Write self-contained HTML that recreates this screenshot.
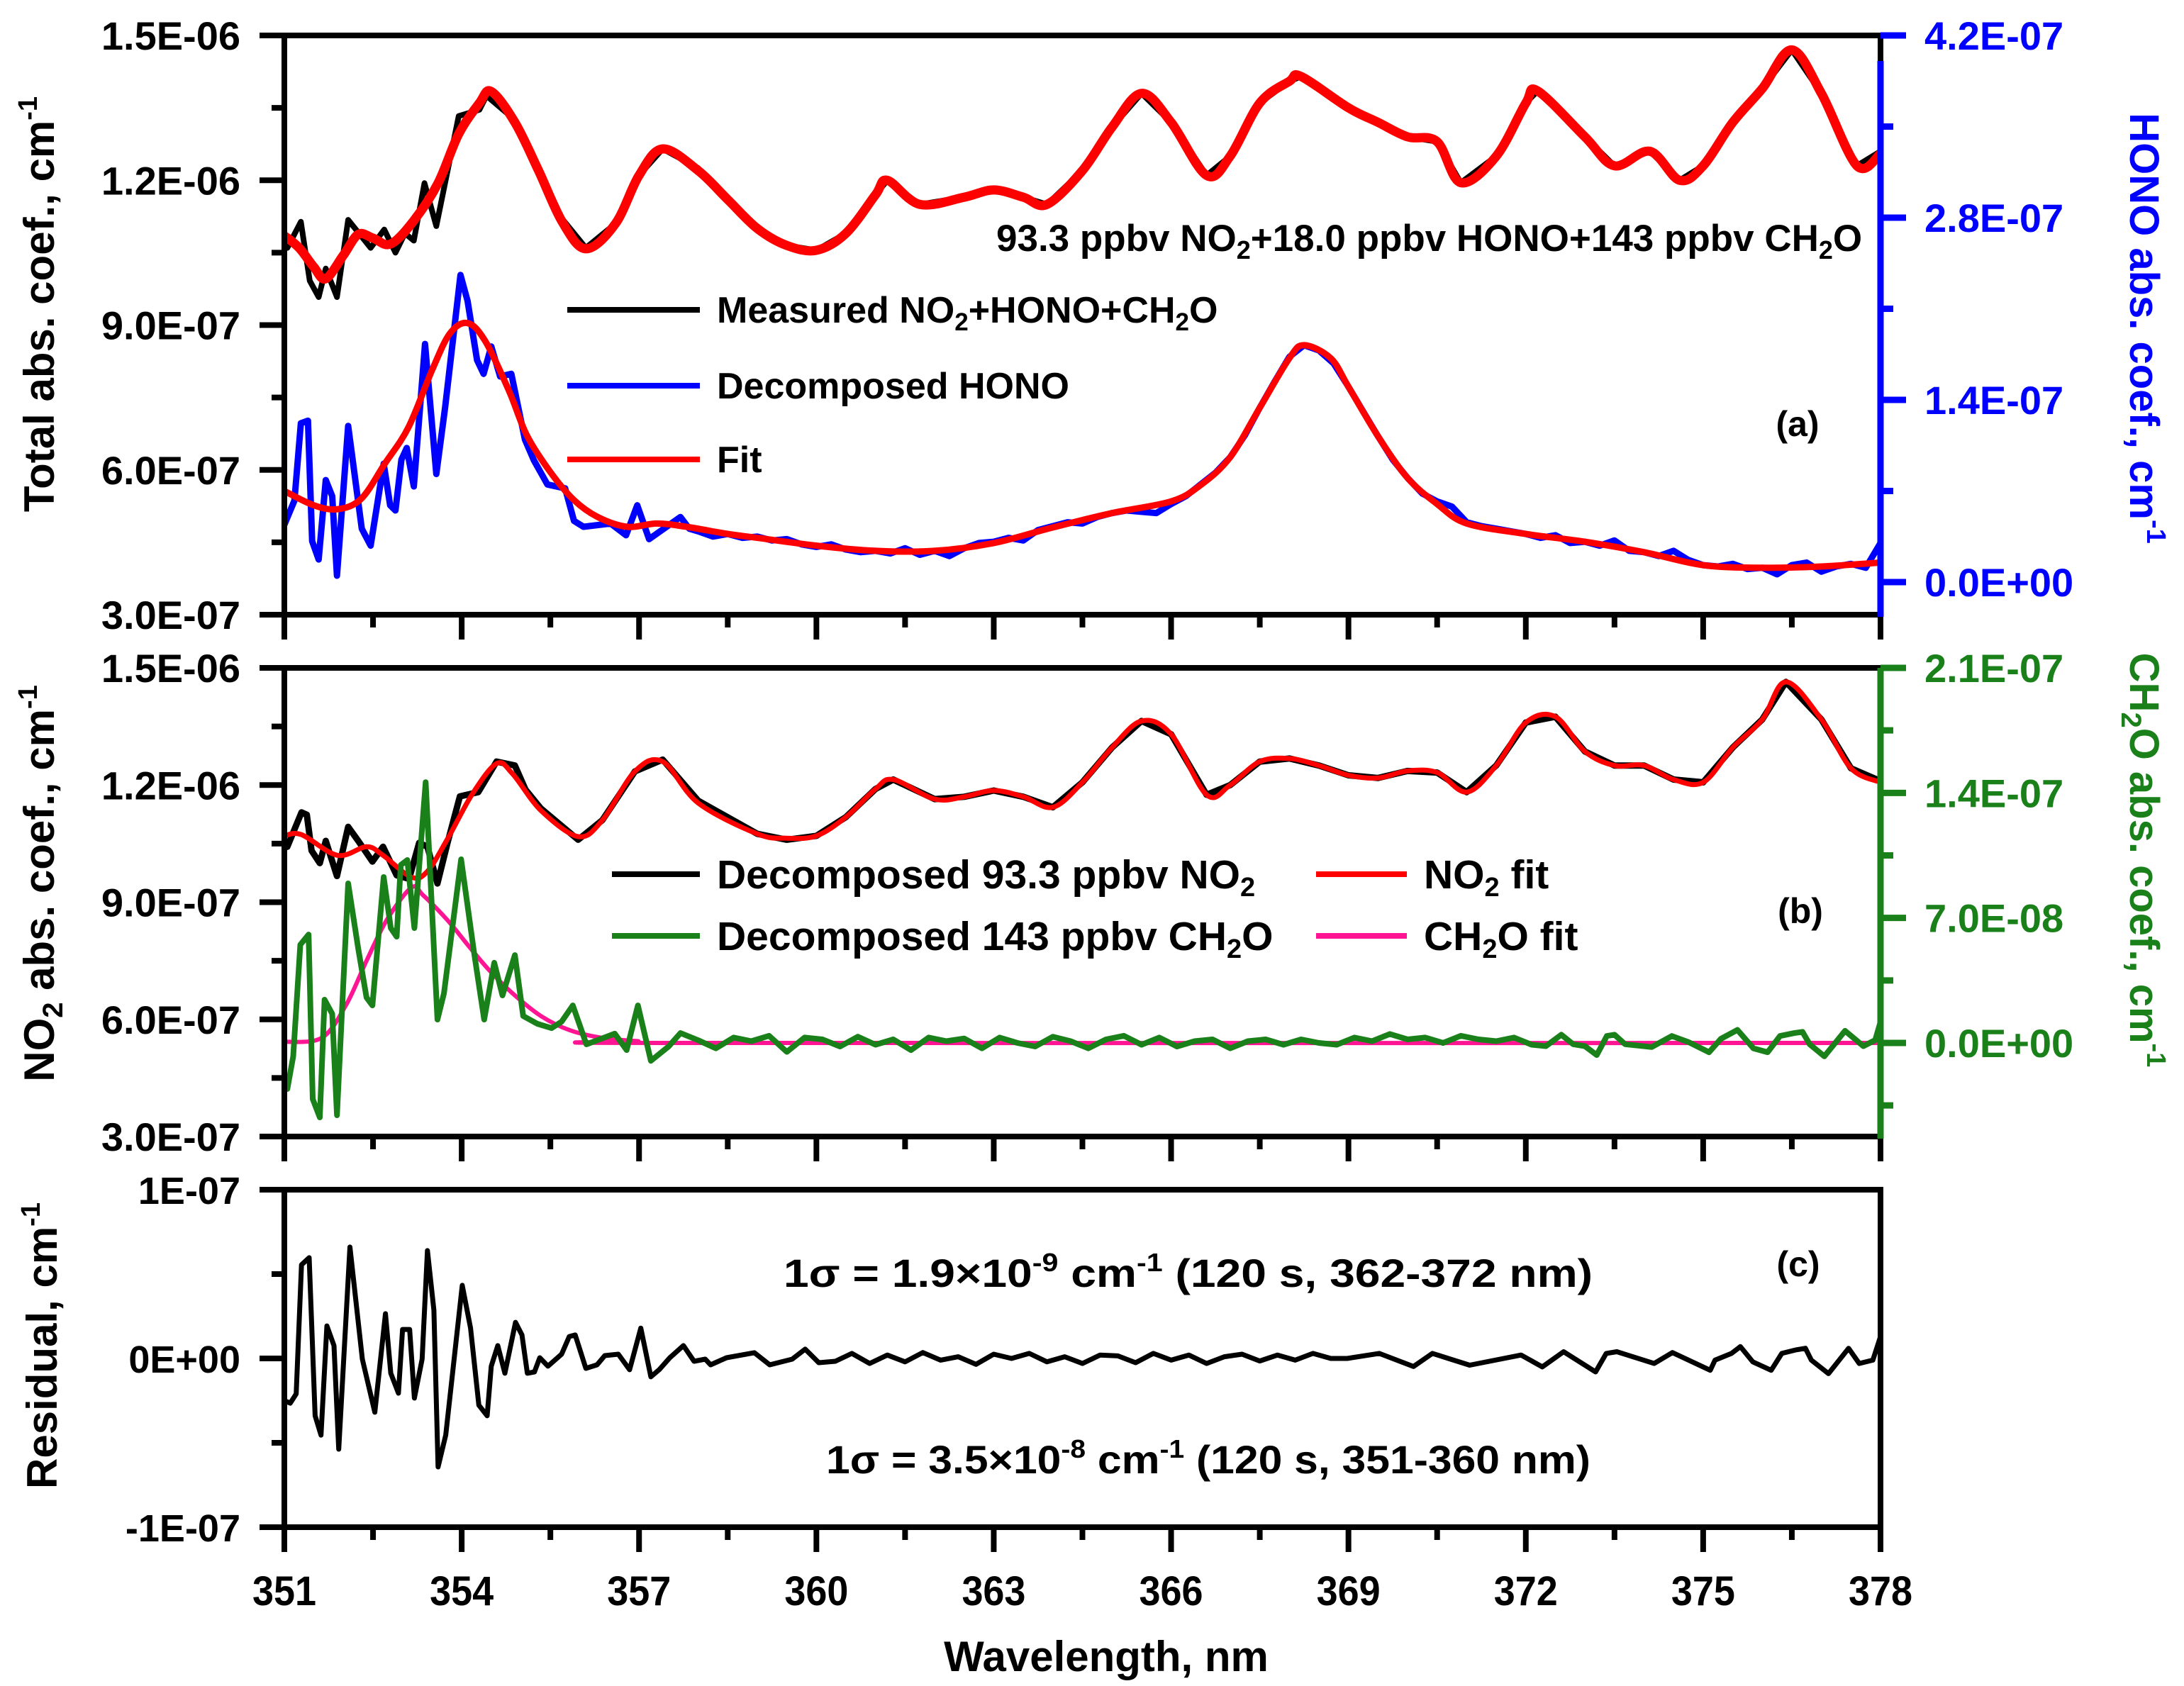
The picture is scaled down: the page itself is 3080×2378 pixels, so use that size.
<!DOCTYPE html>
<html><head><meta charset="utf-8">
<style>
html,body{margin:0;padding:0;background:#fff;}
svg{display:block;font-family:"Liberation Sans",Arial,sans-serif;font-weight:bold;}
</style></head>
<body>
<svg id="chart" width="3080" height="2378" viewBox="0 0 3080 2378" xmlns="http://www.w3.org/2000/svg">
<rect x="0" y="0" width="3080" height="2378" fill="#fff"/>
<g id="marks"></g>
<g id="axes"></g>
<g id="texts">
  <text transform="translate(76,429) rotate(-90)" text-anchor="middle" font-size="60">Total abs. coef., cm<tspan font-size="38" dy="-24">-1</tspan></text>
  <text transform="translate(76,1246) rotate(-90)" text-anchor="middle" font-size="60">NO<tspan font-size="40" dy="12">2</tspan><tspan dy="-12"> abs. coef., cm</tspan><tspan font-size="38" dy="-24">-1</tspan></text>
  <text transform="translate(80,1898) rotate(-90)" text-anchor="middle" font-size="60">Residual, cm<tspan font-size="38" dy="-24">-1</tspan></text>
  <text transform="translate(3004,463) rotate(90)" text-anchor="middle" font-size="58" fill="#0000ff">HONO abs. coef., cm<tspan font-size="38" dy="-24">-1</tspan></text>
  <text transform="translate(3004,1213) rotate(90)" text-anchor="middle" font-size="58" fill="#1a801a">CH<tspan font-size="40" dy="12">2</tspan><tspan dy="-12">O abs. coef., cm</tspan><tspan font-size="38" dy="-24">-1</tspan></text>
  <text x="1560" y="2357" text-anchor="middle" font-size="60">Wavelength, nm</text>

  <text x="1405" y="354" font-size="53">93.3 ppbv NO<tspan font-size="36" dy="11">2</tspan><tspan dy="-11">+18.0 ppbv HONO+143 ppbv CH</tspan><tspan font-size="36" dy="11">2</tspan><tspan dy="-11">O</tspan></text>
  <line x1="800" y1="437" x2="987" y2="437" stroke="#000" stroke-width="8"/>
  <text x="1011" y="455" font-size="52">Measured NO<tspan font-size="35" dy="11">2</tspan><tspan dy="-11">+HONO+CH</tspan><tspan font-size="35" dy="11">2</tspan><tspan dy="-11">O</tspan></text>
  <line x1="800" y1="544" x2="987" y2="544" stroke="#0000ff" stroke-width="8"/>
  <text x="1011" y="562" font-size="52">Decomposed HONO</text>
  <line x1="800" y1="648" x2="987" y2="648" stroke="#ff0000" stroke-width="8"/>
  <text x="1011" y="666" font-size="52">Fit</text>
  <text x="2535" y="615" text-anchor="middle" font-size="50">(a)</text>

  <line x1="863" y1="1233" x2="987" y2="1233" stroke="#000" stroke-width="8"/>
  <text x="1011" y="1253" font-size="57">Decomposed 93.3 ppbv NO<tspan font-size="38" dy="11">2</tspan></text>
  <line x1="863" y1="1320" x2="987" y2="1320" stroke="#1a801a" stroke-width="8"/>
  <text x="1011" y="1340" font-size="57">Decomposed 143 ppbv CH<tspan font-size="38" dy="11">2</tspan><tspan dy="-11">O</tspan></text>
  <line x1="1856" y1="1233" x2="1984" y2="1233" stroke="#ff0000" stroke-width="8"/>
  <text x="2008" y="1253" font-size="57">NO<tspan font-size="38" dy="11">2</tspan><tspan dy="-11"> fit</tspan></text>
  <line x1="1856" y1="1320" x2="1984" y2="1320" stroke="#ff1493" stroke-width="8"/>
  <text x="2008" y="1340" font-size="57">CH<tspan font-size="38" dy="11">2</tspan><tspan dy="-11">O fit</tspan></text>
  <text x="2539" y="1302" text-anchor="middle" font-size="50">(b)</text>

  <text x="1105" y="1815" font-size="56" textLength="1141" lengthAdjust="spacingAndGlyphs">1σ = 1.9×10<tspan font-size="36" dy="-22">-9</tspan><tspan dy="22"> cm</tspan><tspan font-size="36" dy="-22">-1</tspan><tspan dy="22"> (120 s, 362-372 nm)</tspan></text>
  <text x="1165" y="2078" font-size="56" textLength="1078" lengthAdjust="spacingAndGlyphs">1σ = 3.5×10<tspan font-size="36" dy="-22">-8</tspan><tspan dy="22"> cm</tspan><tspan font-size="36" dy="-22">-1</tspan><tspan dy="22"> (120 s, 351-360 nm)</tspan></text>
  <text x="2536" y="1800" text-anchor="middle" font-size="50">(c)</text>
</g>
</svg>
<script>
const totalFitX = [351,351.25,351.5,351.7,352,352.25,352.5,352.8,353.2,353.6,353.95,354.3,354.5,354.9,355.3,355.7,356.1,356.6,357,357.4,358,358.5,359,359.5,360,360.5,361,361.2,361.75,362.5,363,363.5,363.9,364.5,365,365.5,366,366.6,367,367.5,368,368.2,369,369.5,370,370.5,370.9,371.5,372,372.2,373,373.5,374.1,374.6,375,375.5,376,376.5,377,377.6,378];
const totalFitY = [10.85,10.6,10.2,9.96,10.45,10.88,10.8,10.68,11.18,11.94,12.96,13.6,13.84,13.2,12.2,11.14,10.58,11.1,12.1,12.65,12.2,11.6,11.0,10.65,10.55,10.9,11.7,12.0,11.5,11.65,11.8,11.65,11.5,12.2,13.1,13.8,13.2,12.1,12.5,13.6,14.05,14.15,13.5,13.2,12.9,12.8,11.95,12.5,13.6,13.85,12.9,12.3,12.6,12.0,12.3,13.2,13.9,14.7,13.8,12.3,12.55];
const measX = [351,351.05,351.28,351.43,351.58,351.7,351.89,352.08,352.46,352.69,352.88,353.04,353.19,353.37,353.57,353.95,354.3,354.42,354.9,355.3,355.7,356.1,356.6,357,357.4,358,358.5,359,359.5,360,360.5,361,361.2,361.75,362.5,363,363.5,363.9,364.5,365,365.5,366,366.6,367,367.5,368,368.2,369,369.5,370,370.5,370.9,371.5,372,372.2,373,373.5,374.1,374.6,375,375.5,376,376.5,377,377.6,378];
const measY = [10.7,10.6,11.14,9.92,9.58,10.17,9.58,11.18,10.6,10.98,10.5,10.9,10.75,11.94,11.05,13.33,13.46,13.75,13.25,12.25,11.2,10.6,11.1,12.1,12.65,12.25,11.6,11.0,10.65,10.55,10.9,11.7,12.0,11.5,11.65,11.8,11.65,11.5,12.2,13.1,13.8,13.2,12.1,12.5,13.6,14.05,14.15,13.5,13.2,12.9,12.8,11.95,12.5,13.6,13.85,12.9,12.3,12.6,12.0,12.3,13.2,13.9,14.7,13.8,12.3,12.6];
const honoX = [351,351.17,351.28,351.4,351.47,351.58,351.7,351.81,351.89,352.08,352.31,352.46,352.68,352.79,352.88,352.98,353.07,353.19,353.38,353.57,353.72,353.98,354.1,354.26,354.37,354.5,354.65,354.84,355.07,355.22,355.45,355.75,355.9,356.06,356.52,356.78,356.97,357.17,357.7,357.85,358,358.25,358.5,358.75,359,359.25,359.5,359.75,360,360.25,360.5,360.75,361,361.25,361.5,361.75,362,362.25,362.5,362.75,363,363.25,363.5,363.75,364,364.25,364.5,364.75,365,365.25,365.5,365.75,366,366.25,366.5,366.75,367,367.25,367.5,367.75,368,368.25,368.5,368.75,369,369.25,369.5,369.75,370,370.25,370.5,370.75,371,371.25,371.5,371.75,372,372.25,372.5,372.75,373,373.25,373.5,373.75,374,374.25,374.5,374.75,375,375.25,375.5,375.75,376,376.25,376.5,376.75,377,377.25,377.5,377.75,378];
const honoY = [4.4,6.26,12.2,12.4,3.15,1.74,7.84,6.6,0.49,12.0,4.1,2.8,9.1,5.9,5.5,9.4,10.3,7.35,18.3,8.3,13.45,23.6,21.6,17.05,16.0,18.1,15.8,16.0,10.95,9.37,7.5,7.2,4.7,4.25,4.5,3.6,5.9,3.3,5.0,4.1,3.9,3.5,3.7,3.4,3.5,3.2,3.3,2.9,2.7,2.9,2.5,2.3,2.4,2.2,2.6,2.1,2.4,2.0,2.6,3.0,3.1,3.4,3.2,4.0,4.3,4.6,4.5,5.0,5.3,5.5,5.4,5.3,6.0,6.6,7.5,8.4,9.6,11.3,13.4,15.4,17.3,18.2,17.8,16.8,15.0,13.1,11.2,9.4,8.0,6.8,6.2,5.8,4.6,4.3,4.1,3.9,3.7,3.4,3.6,3.0,3.1,2.8,3.2,2.4,2.3,2.0,2.4,1.7,1.3,1.2,1.4,1.0,1.1,0.6,1.3,1.5,0.8,1.2,1.4,1.1,3.0];
const honoFitX = [351,351.5,351.9,352.3,352.7,353.1,353.5,353.8,354.1,354.4,354.8,355.1,355.5,355.9,356.3,356.8,357.3,357.8,358.5,359,360,361,362,363,364,365,366,366.5,367,367.5,368,368.25,368.7,369,369.5,370,370.5,371,372,373,374,375,376,377,378];
const honoFitY = [7.0,5.9,5.6,6.4,9.1,11.9,16.3,19.1,19.9,18.5,14.7,11.3,8.45,6.3,5.0,4.25,4.5,4.25,3.7,3.4,2.8,2.4,2.4,3.0,4.2,5.3,6.2,7.45,9.6,13.4,17.2,18.2,17.2,15.0,11.2,8.0,6.0,4.5,3.7,3.1,2.3,1.3,1.1,1.2,1.5];
const no2FitX = [351,351.29,351.9,352.39,352.67,353.15,353.42,353.76,354.18,354.59,354.86,355.34,355.97,356.38,356.93,357.4,358,359,359.5,360,360.5,361,361.3,362,362.5,363,363.5,364,364.5,365,365.5,366,366.6,367,367.5,368,368.5,369,369.5,370,370.5,371,371.5,372,372.5,373,373.5,374,374.5,375,375.5,376,376.4,377,377.5,378];
const no2FitY = [10.7,10.73,10.2,10.42,10.2,9.64,9.79,10.62,11.77,12.55,12.29,11.35,10.68,11.1,12.35,12.6,11.54,10.75,10.64,10.7,11.18,11.9,12.14,11.64,11.7,11.86,11.7,11.43,12.07,12.96,13.64,13.3,11.75,12.0,12.6,12.68,12.5,12.25,12.18,12.36,12.32,11.82,12.5,13.6,13.75,12.86,12.5,12.5,12.14,12.07,12.96,13.68,14.64,13.68,12.43,12.07];
const no2X = [351,351.05,351.29,351.38,351.46,351.6,351.7,351.89,352.08,352.25,352.49,352.67,352.9,353.11,353.28,353.42,353.59,353.76,353.97,354.28,354.59,354.9,355.08,355.34,355.97,356.38,356.93,357.4,358,359,359.5,360,360.5,361,361.3,362,362.5,363,363.5,364,364.5,365,365.5,366,366.6,367,367.5,368,368.5,369,369.5,370,370.5,371,371.5,372,372.5,373,373.5,374,374.5,375,375.5,376,376.4,377,377.5,378];
const no2Y = [10.4,10.42,11.3,11.24,10.32,10.0,10.57,9.67,10.93,10.57,10.04,10.42,9.69,9.6,10.52,10.42,9.48,10.52,11.71,11.82,12.6,12.5,11.88,11.4,10.6,11.1,12.35,12.65,11.6,10.75,10.6,10.7,11.18,11.9,12.14,11.64,11.7,11.86,11.7,11.43,12.07,12.96,13.64,13.3,11.75,12.0,12.6,12.68,12.5,12.25,12.18,12.36,12.32,11.82,12.5,13.6,13.75,12.86,12.5,12.5,12.14,12.07,12.96,13.68,14.64,13.68,12.43,12.1];
const ch2oX = [351.05,351.15,351.27,351.41,351.48,351.6,351.68,351.81,351.89,352.08,352.25,352.39,352.49,352.68,352.8,352.9,352.97,353.08,353.2,353.39,353.59,353.7,353.99,354.21,354.38,354.55,354.69,354.9,355.04,355.28,355.52,355.69,355.88,356.11,356.59,356.79,356.98,357.2,357.5,357.7,358,358.3,358.6,358.9,359.2,359.5,359.8,360.1,360.4,360.7,361,361.3,361.6,361.9,362.2,362.5,362.8,363.1,363.4,363.7,364,364.3,364.6,364.9,365.2,365.5,365.8,366.1,366.4,366.7,367,367.3,367.6,367.9,368.2,368.5,368.8,369.1,369.4,369.7,370,370.3,370.6,370.9,371.2,371.5,371.8,372.1,372.34,372.6,372.8,373.0,373.2,373.37,373.5,373.68,374.13,374.47,374.75,375.1,375.3,375.58,375.85,376.09,376.3,376.54,376.68,376.8,377.05,377.4,377.71,377.91,378];
const ch2oY = [-2.58,-0.75,5.5,6.07,-3.14,-4.17,2.42,1.63,-4.05,8.93,5.28,2.54,2.1,9.29,6.43,5.95,9.96,10.24,6.43,14.6,1.31,2.78,10.28,5.04,1.31,4.49,2.66,4.92,1.51,1.07,0.83,1.19,2.1,-0.08,0.52,-0.4,2.1,-1.0,-0.2,0.55,0.15,-0.3,0.3,0.1,0.4,-0.5,0.3,0.2,-0.2,0.35,-0.1,0.2,-0.4,0.3,0.1,0.25,-0.3,0.3,0.0,-0.2,0.35,0.1,-0.3,0.2,0.4,-0.1,0.3,-0.2,0.1,0.2,-0.3,0.1,0.2,-0.1,0.2,0.0,-0.1,0.3,0.1,0.5,0.2,0.3,0.0,0.4,0.2,0.1,0.3,-0.1,-0.18,0.46,-0.07,-0.18,-0.68,0.39,0.46,-0.07,-0.23,0.39,0.05,-0.52,0.23,0.73,-0.3,-0.52,0.39,0.55,0.62,-0.07,-0.75,0.68,-0.18,0.16,1.18];
const ch2oFitX = [351,351.63,352.04,352.39,352.73,353.15,353.35,353.76,354.1,354.45,354.86,355.34,355.83,356.38,356.98,357.6,378];
const ch2oFitY = [0.06,0.28,2.1,4.6,6.87,8.7,8.26,6.87,5.5,4.13,2.78,1.51,0.71,0.28,0.1,0.0,0.0];
const residX = [351,351.1,351.2,351.29,351.42,351.52,351.62,351.72,351.84,351.92,352.11,352.32,352.53,352.71,352.8,352.93,353.0,353.12,353.2,353.33,353.42,353.53,353.6,353.73,354.01,354.15,354.29,354.43,354.5,354.61,354.73,354.91,355.02,355.11,355.23,355.32,355.46,355.69,355.82,355.92,356.1,356.29,356.42,356.65,356.84,357.03,357.2,357.34,357.52,357.75,357.93,358.12,358.21,358.48,358.95,359.21,359.59,359.81,360.04,360.32,360.6,360.9,361.2,361.5,361.8,362.1,362.4,362.7,363.0,363.3,363.6,363.9,364.2,364.5,364.8,365.1,365.4,365.7,366.0,366.3,366.6,366.9,367.2,367.5,367.8,368.1,368.4,368.7,368.98,369.52,370.1,370.42,371.05,371.92,372.28,372.64,373.18,373.36,373.54,374.17,374.48,375.12,375.2,375.48,375.63,375.84,376.15,376.33,376.56,376.73,376.83,377.12,377.46,377.64,377.87,378];
const residY = [-2.5,-2.65,-2.1,5.55,5.97,-3.4,-4.54,1.93,0.76,-5.38,6.6,-0.04,-3.19,2.65,-0.88,-2.06,1.72,1.72,-2.35,-0.04,6.39,2.86,-6.43,-4.54,4.33,1.8,-2.77,-3.4,-0.46,0.76,-0.88,2.14,1.39,-0.88,-0.8,0.04,-0.46,0.25,1.3,1.39,-0.59,-0.38,0.17,0.25,-0.67,1.8,-1.09,-0.67,0.04,0.76,-0.17,-0.04,-0.38,0.04,0.34,-0.38,-0.04,0.55,-0.25,-0.17,0.3,-0.3,0.2,-0.2,0.35,-0.1,0.1,-0.35,0.25,0.0,0.3,-0.2,0.1,-0.3,0.2,0.15,-0.25,0.3,-0.1,0.2,-0.3,0.1,0.25,-0.15,0.2,-0.1,0.3,0.0,0.0,0.3,-0.48,0.3,-0.4,0.2,-0.5,0.4,-0.8,0.3,0.4,-0.3,0.35,-0.7,-0.1,0.3,0.7,-0.2,-0.7,0.3,0.5,0.6,-0.1,-0.9,0.6,-0.3,-0.1,1.3];
const xTicks = [351,354,357,360,363,366,369,372,375,378];
const aLeftTicks = [3,6,9,12,15];
const aLeftLabels = ["3.0E-07","6.0E-07","9.0E-07","1.2E-06","1.5E-06"];
const honoTicks = [0,14,28,42];
const honoLabels = ["0.0E+00","1.4E-07","2.8E-07","4.2E-07"];
const bLeftTicks = [3,6,9,12,15];
const bLeftLabels = ["3.0E-07","6.0E-07","9.0E-07","1.2E-06","1.5E-06"];
const ch2oTicks = [0,7,14,21];
const ch2oLabels = ["0.0E+00","7.0E-08","1.4E-07","2.1E-07"];
const cTicks = [-10,0,10];
const cLabels = ["-1E-07","0E+00","1E-07"];

const XL=401, XR=2652;
const X = v => XL + (v-351)/27*(XR-XL);
const yA = v => 867 - (v-3)/12*817;
const yHono = v => 821 - v/42*771;
const yB = v => 1603 - (v-3)/12*661;
const yCh2o = v => 1471 - v/21*529;
const yC = v => 1916 - v*23.8;

const NS="http://www.w3.org/2000/svg";
const marks=document.getElementById('marks');
const axes=document.getElementById('axes');

function linePath(xs,ys,fy){
  let d='';
  for(let i=0;i<xs.length;i++){d+=(i?'L':'M')+X(xs[i]).toFixed(1)+' '+fy(ys[i]).toFixed(1);}
  return d;
}
function smoothPath(xs,ys,fy){
  const p=xs.map((x,i)=>[X(x),fy(ys[i])]);
  let d='M'+p[0][0].toFixed(1)+' '+p[0][1].toFixed(1);
  for(let i=0;i<p.length-1;i++){
    const p0=p[Math.max(0,i-1)],p1=p[i],p2=p[i+1],p3=p[Math.min(p.length-1,i+2)];
    const c1=[p1[0]+(p2[0]-p0[0])/6,p1[1]+(p2[1]-p0[1])/6];
    const c2=[p2[0]-(p3[0]-p1[0])/6,p2[1]-(p3[1]-p1[1])/6];
    d+='C'+c1[0].toFixed(1)+' '+c1[1].toFixed(1)+' '+c2[0].toFixed(1)+' '+c2[1].toFixed(1)+' '+p2[0].toFixed(1)+' '+p2[1].toFixed(1);
  }
  return d;
}
function addPath(parent,d,color,w){
  const e=document.createElementNS(NS,'path');
  e.setAttribute('d',d);
  e.setAttribute('fill','none');
  e.setAttribute('stroke',color);
  e.setAttribute('stroke-width',w);
  e.setAttribute('stroke-linejoin','round');
  e.setAttribute('stroke-linecap','round');
  parent.appendChild(e);
  return e;
}
function clipGroup(id,y1,y2){
  const cp=document.createElementNS(NS,'clipPath');
  cp.setAttribute('id',id);
  const r=document.createElementNS(NS,'rect');
  r.setAttribute('x',XL);r.setAttribute('y',y1);r.setAttribute('width',XR-XL);r.setAttribute('height',y2-y1);
  cp.appendChild(r);
  document.getElementById('chart').appendChild(cp);
  const g=document.createElementNS(NS,'g');
  g.setAttribute('clip-path','url(#'+id+')');
  marks.appendChild(g);
  return g;
}

const gA=clipGroup('clipA',50,867);
const gB=clipGroup('clipB',942,1603);
const gC=clipGroup('clipC',1678,2154);

let e;
e=addPath(gA,linePath(measX,measY,yA),'#000',8);


e=addPath(gA,smoothPath(totalFitX,totalFitY,yA),'#ff0000',13);


e=addPath(gA,linePath(honoX,honoY,yHono),'#0000ff',9);


e=addPath(gA,smoothPath(honoFitX,honoFitY,yHono),'#ff0000',9);



e=addPath(gB,linePath(no2X,no2Y,yB),'#000',9);


e=addPath(gB,smoothPath(no2FitX,no2FitY,yB),'#ff0000',7);


e=addPath(gB,smoothPath(ch2oFitX,ch2oFitY,yCh2o),'#ff1493',6);


e=addPath(gB,linePath(ch2oX,ch2oY,yCh2o),'#1a801a',8);



e=addPath(gC,linePath(residX,residY,yC),'#000',7);



function ln(x1,y1,x2,y2,c,w){
  const l=document.createElementNS(NS,'line');
  l.setAttribute('x1',x1);l.setAttribute('y1',y1);l.setAttribute('x2',x2);l.setAttribute('y2',y2);
  l.setAttribute('stroke',c);l.setAttribute('stroke-width',w);
  axes.appendChild(l);
  return l;
}
function txt(x,y,s,anchor,size,color){
  const t=document.createElementNS(NS,'text');
  t.setAttribute('x',x);t.setAttribute('y',y);
  t.setAttribute('text-anchor',anchor);
  t.setAttribute('font-size',size);
  t.setAttribute('fill',color);
  t.textContent=s;
  axes.appendChild(t);
  return t;
}
function frame(top,bot,name){
  const r=document.createElementNS(NS,'rect');
  r.setAttribute('x',XL);r.setAttribute('y',top);r.setAttribute('width',XR-XL);r.setAttribute('height',bot-top);
  r.setAttribute('fill','none');r.setAttribute('stroke','#000');r.setAttribute('stroke-width',8);
  
  
  axes.appendChild(r);
  for(let i=0;i<xTicks.length;i++){
    const t=ln(X(xTicks[i]),bot,X(xTicks[i]),bot+35,'#000',8);
    
    
    if(i<xTicks.length-1){
      const m=(xTicks[i]+xTicks[i+1])/2;
      const t2=ln(X(m),bot,X(m),bot+18,'#000',8);
      
      
    }
  }
}
function leftAxis(ticks,labels,fy,size){
  for(let i=0;i<ticks.length;i++){
    const y=fy(ticks[i]);
    const t=ln(XL-35,y,XL,y,'#000',8);
    
    
    const l=txt(339,y+20,labels[i],'end',size,'#000');
    
    
    if(i<ticks.length-1){
      const m=fy((ticks[i]+ticks[i+1])/2);
      const t2=ln(XL-18,m,XL,m,'#000',8);
      
      
    }
  }
}
function rightAxis(ticks,labels,fy,color,y1,y2,extraMinor){
  const ax=ln(XR,y1,XR,y2,color,9);
  
  
  for(let i=0;i<ticks.length;i++){
    const y=fy(ticks[i]);
    const t=ln(XR,y,XR+36,y,color,9);
    
    
    const l=txt(2714,y+20,labels[i],'start',56,color);
    
    
    if(i<ticks.length-1){
      const m=fy((ticks[i]+ticks[i+1])/2);
      const t2=ln(XR,m,XR+18,m,color,9);
      
      
    }
  }
  if(extraMinor!==null){
    const m=fy(extraMinor);
    const t3=ln(XR,m,XR+18,m,color,9);
    
    
  }
}

frame(50,867,'panel-a-frame');
frame(942,1603,'panel-b-frame');
frame(1678,2154,'panel-c-frame');
leftAxis(aLeftTicks,aLeftLabels,yA,56);
leftAxis(bLeftTicks,bLeftLabels,yB,56);
leftAxis(cTicks,cLabels,yC,54);
rightAxis(honoTicks,honoLabels,yHono,'#0000ff',86,870,null);
rightAxis(ch2oTicks,ch2oLabels,yCh2o,'#1a801a',942,1606,-3.5);

for(let i=0;i<xTicks.length;i++){
  const l=txt(X(xTicks[i]),2264,String(xTicks[i]),'middle',58,'#000');
  l.setAttribute('textLength','90');
  l.setAttribute('lengthAdjust','spacingAndGlyphs');
  
  
}
</script>
</body></html>
